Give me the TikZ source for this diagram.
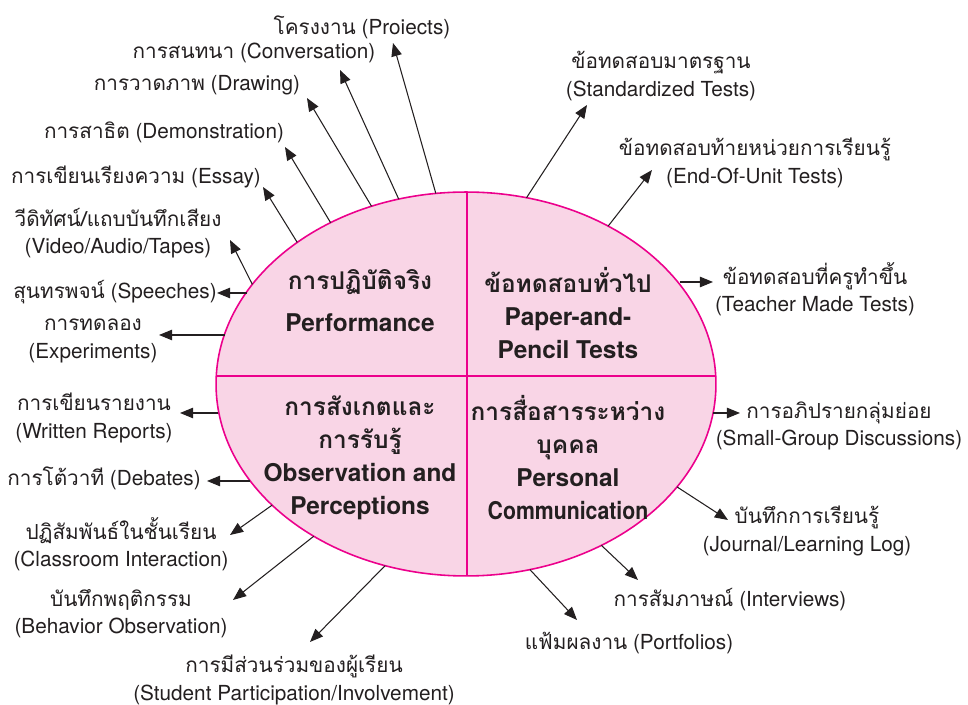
\documentclass[tikz,border=0pt]{standalone}
\usepackage{fontspec}
\setmainfont{TeX Gyre Heros}
\newfontfamily\thai[Script=Thai]{Loma}
\usetikzlibrary{arrows.meta,shapes.geometric}
\definecolor{rimpink}{RGB}{236,0,140}
\definecolor{fillpink}{RGB}{249,213,230}
\definecolor{ink}{RGB}{35,31,32}

\begin{document}
\begin{tikzpicture}[x=0.02cm, y=-0.02cm,
  lbl/.style={align=center, inner sep=0pt, text=ink, font=\fontsize{11.8}{15.5}\selectfont},
  quad/.style={align=center, inner sep=0pt, text=ink, font=\bfseries\fontsize{13.9}{18.8}\selectfont},
  arr/.style={draw=ink, line width=0.6pt, -{Triangle[length=7.5pt,width=6pt]}},
  divider/.style={draw=rimpink, line width=0.9pt}]
  \useasboundingbox (0,0) rectangle (968,705);

  % Centre ellipse
  \node[ellipse, draw=rimpink, fill=fillpink, line width=0.9pt, minimum width=10cm,
    minimum height=7.68cm, inner sep=0pt, outer sep=0pt] (core) at (466,384) {};
  \begin{scope}
    \clip (core.center) ellipse [x radius=250, y radius=192];
    \draw[divider] (200,376) -- (740,376); % horizontal split
    \draw[divider] (467,180) -- (467,600); % vertical split
  \end{scope}

  % Quadrant titles
  \node[quad] (perf) at (360,301) {{\thai การปฏิบัติจริง}\\[5pt] Performance};
  \node[quad] (paper) at (568,313) {{\thai ข้อทดสอบทั่วไป}\\ Paper-and-\\ Pencil Tests};
  \node[quad] (obs) at (360,458) {{\thai การสังเกตและ}\\ {\thai การรับรู้}\\ Observation and\\ Perceptions};
  \node[quad] (pers) at (568,458) {{\thai การสื่อสารระหว่าง}\\ {\thai บุคคล}\\ Personal\\ \scalebox{0.87}[1]{Communication}};

  % Performance side (upper left)
  \node[lbl] (proj) at (362,27) {{\thai โครงงาน} (Proiects)};
  \node[lbl] (conv) at (254,53) {{\thai การสนทนา} (Conversation)};
  \node[lbl] (drw) at (197,85) {{\thai การวาดภาพ} (Drawing)};
  \node[lbl] (demo) at (164,132) {{\thai การสาธิต} (Demonstration)};
  \node[lbl] (essay) at (136,177) {{\thai การเขียนเรียงความ} (Essay)};
  \node[lbl] (video) at (118,233) {{\thai วีดิทัศน์/แถบบันทึกเสียง}\\ (Video/Audio/Tapes)};
  \node[lbl] (speech) at (115,292) {{\thai สุนทรพจน์} (Speeches)};
  \node[lbl] (exper) at (93,341) {{\thai การทดลอง}\\ (Experiments)};

  % Observation side (lower left)
  \node[lbl] (writ) at (94,418) {{\thai การเขียนรายงาน}\\ (Written Reports)};
  \node[lbl] (debate) at (104,478) {{\thai การโต้วาที} (Debates)};
  \node[lbl] (class) at (121,544) {{\thai ปฏิสัมพันธ์ในชั้นเรียน}\\ (Classroom Interaction)};
  \node[lbl] (behav) at (121,614) {{\thai บันทึกพฤติกรรม}\\ (Behavior Observation)};
  \node[lbl] (stud) at (294,680) {{\thai การมีส่วนร่วมของผู้เรียน}\\ (Student Participation/Involvement)};

  % Paper-and-pencil side (upper right)
  \node[lbl] (std) at (661,76) {{\thai ข้อทดสอบมาตรฐาน}\\ (Standardized Tests)};
  \node[lbl] (eou) at (755,163) {{\thai ข้อทดสอบท้ายหน่วยการเรียนรู้}\\ (End-Of-Unit Tests)};
  \node[lbl] (teach) at (815,289) {{\thai ข้อทดสอบที่ครูทำขึ้น}\\ (Teacher Made Tests)};

  % Personal communication side (lower right)
  \node[lbl] (small) at (839,426) {{\thai การอภิปรายกลุ่มย่อย}\\ (Small-Group Discussions)};
  \node[lbl] (journ) at (807,531) {{\thai บันทึกการเรียนรู้}\\ (Journal/Learning Log)};
  \node[lbl] (interv) at (730,600) {{\thai การสัมภาษณ์} (Interviews)};
  \node[lbl] (portf) at (629,643) {{\thai แฟ้มผลงาน} (Portfolios)};

  % Arrow heads
  \coordinate (proj-tip) at (393,43);
  \coordinate (conv-tip) at (340,70);
  \coordinate (drw-tip) at (307,98);
  \coordinate (demo-tip) at (285,147);
  \coordinate (essay-tip) at (263,187);
  \coordinate (video-tip) at (230,240);
  \coordinate (speech-tip) at (217,293);
  \coordinate (exper-tip) at (159,335);
  \coordinate (writ-tip) at (180,413);
  \coordinate (debate-tip) at (207,481);
  \coordinate (class-tip) at (230,535);
  \coordinate (behav-tip) at (233,600);
  \coordinate (stud-tip) at (310,642);
  \coordinate (std-tip) at (587,105);
  \coordinate (eou-tip) at (652,170);
  \coordinate (teach-tip) at (713,282);
  \coordinate (small-tip) at (740,413);
  \coordinate (journ-tip) at (728,520);
  \coordinate (interv-tip) at (638,580);
  \coordinate (portf-tip) at (577,620);

  % Slanted arrows out of the ellipse (border angle / target)
  \foreach \ang/\tgt in {99.2/proj, 110/conv, 118.9/drw, 130.6/demo, 140.3/essay,
      155.4/video, 212.4/class, 225.6/behav, 246.6/stud, 72/std, 48.8/eou,
      334.7/journ, 310.8/interv, 289/portf}
    \draw[arr] (core.\ang) -- (\tgt-tip);
  % Level arrows
  \foreach \ang/\tgt in {157.5/speech, 168.6/exper, 186.7/writ, 204.2/debate,
      25.8/teach, 353.3/small}
    \draw[arr] (core.\ang |- \tgt-tip) -- (\tgt-tip);

\end{tikzpicture}
\end{document}
